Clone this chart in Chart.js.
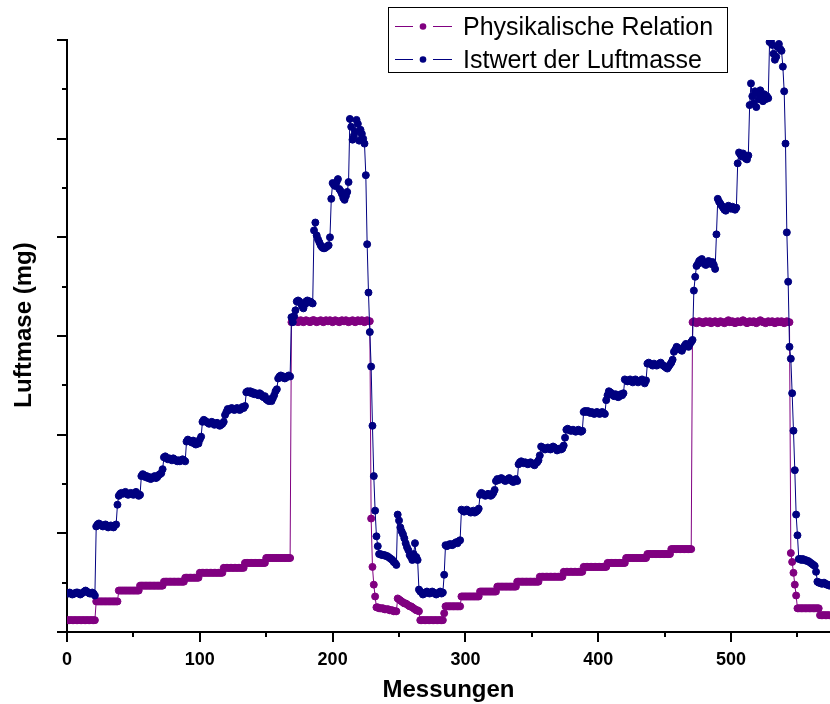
<!DOCTYPE html>
<html lang="de">

<head>
    <meta charset="UTF-8">
    <title>Luftmasse</title>
    <style>
        html,
        body {
            margin: 0;
            padding: 0;
            overflow: hidden;
            background: #fff;
        }

        .chart-container {
            position: relative;
            width: 830px;
            height: 704px;
        }

        canvas {
            display: block;
        }
    </style>
</head>

<body>
    <div class="chart-container">
        <canvas id="luftmasseChart"></canvas>
    </div>
</body>

<script src="https://cdn.jsdelivr.net/npm/chart.js@4.4.6/dist/chart.umd.min.js"></script>
<script>
    // one value per measurement, index = Messung
    const seriesLabels = ['Physikalische Relation', 'Istwert der Luftmasse'];
    const seriesColors = ['#800080', '#000080'];
    const xTicks = [0, 100, 200, 300, 400, 500];

    const physRelation = [
        // 0-21
        1.2, 1.2, 1.2, 1.2, 1.2, 1.2, 1.2, 1.2, 1.2, 1.2, 1.2,
        1.2, 1.2, 1.2, 1.2, 1.2, 1.2, 1.2, 1.2, 1.2, 1.2, 1.2,
        // 22-38
        3.1, 3.1, 3.1, 3.1, 3.1, 3.1, 3.1, 3.1, 3.1, 3.1, 3.1, 3.1, 3.1, 3.1, 3.1, 3.1, 3.1,
        // 39-54
        4.2, 4.2, 4.2, 4.2, 4.2, 4.2, 4.2, 4.2, 4.2, 4.2, 4.2, 4.2, 4.2, 4.2, 4.2, 4.2,
        // 55-72
        4.7, 4.7, 4.7, 4.7, 4.7, 4.7, 4.7, 4.7, 4.7, 4.7, 4.7, 4.7, 4.7, 4.7, 4.7, 4.7, 4.7, 4.7,
        // 73-88
        5.1, 5.1, 5.1, 5.1, 5.1, 5.1, 5.1, 5.1, 5.1, 5.1, 5.1, 5.1, 5.1, 5.1, 5.1, 5.1,
        // 89-99
        5.5, 5.5, 5.5, 5.5, 5.5, 5.5, 5.5, 5.5, 5.5, 5.5, 5.5,
        // 100-117
        6.0, 6.0, 6.0, 6.0, 6.0, 6.0, 6.0, 6.0, 6.0, 6.0, 6.0, 6.0, 6.0, 6.0, 6.0, 6.0, 6.0, 6.0,
        // 118-133
        6.5, 6.5, 6.5, 6.5, 6.5, 6.5, 6.5, 6.5, 6.5, 6.5, 6.5, 6.5, 6.5, 6.5, 6.5, 6.5,
        // 134-149
        7.0, 7.0, 7.0, 7.0, 7.0, 7.0, 7.0, 7.0, 7.0, 7.0, 7.0, 7.0, 7.0, 7.0, 7.0, 7.0,
        // 150-168
        7.5, 7.5, 7.5, 7.5, 7.5, 7.5, 7.5, 7.5, 7.5, 7.5, 7.5, 7.5, 7.5, 7.5, 7.5, 7.5, 7.5, 7.5, 7.5,
        // 169-228
        31.4, 31.6, 31.5, 31.5, 31.6, 31.4, 31.5, 31.6, 31.5, 31.4,
        31.5, 31.6, 31.5, 31.5, 31.4, 31.5, 31.6, 31.6, 31.5, 31.4,
        31.5, 31.5, 31.6, 31.5, 31.4, 31.5, 31.6, 31.5, 31.5, 31.6,
        31.5, 31.4, 31.5, 31.6, 31.5, 31.5, 31.4, 31.5, 31.6, 31.5,
        31.5, 31.6, 31.5, 31.4, 31.5, 31.5, 31.6, 31.5, 31.4, 31.5,
        31.6, 31.5, 31.5, 31.6, 31.5, 31.4, 31.5, 31.6, 31.5, 31.5,
        // 229-232
        11.5, 6.6, 4.8, 3.6,
        // 233-248
        2.5, 2.5, 2.4, 2.4, 2.4, 2.4, 2.3, 2.3, 2.3, 2.3, 2.2, 2.2, 2.2, 2.1, 2.1, 2.1,
        // 249-265
        3.4, 3.3, 3.2, 3.1, 3.0, 2.9, 2.9, 2.8, 2.7, 2.6, 2.6, 2.5, 2.4, 2.3, 2.2, 2.2, 2.1,
        // 266-283
        1.2, 1.2, 1.2, 1.2, 1.2, 1.2, 1.2, 1.2, 1.2, 1.2, 1.2, 1.2, 1.2, 1.2, 1.2, 1.2, 1.2, 1.2,
        // 284
        1.9,
        // 285-296
        2.6, 2.6, 2.6, 2.6, 2.6, 2.6, 2.6, 2.6, 2.6, 2.6, 2.6, 2.6,
        // 297-310
        3.6, 3.6, 3.6, 3.6, 3.6, 3.6, 3.6, 3.6, 3.6, 3.6, 3.6, 3.6, 3.6, 3.6,
        // 311-323
        4.1, 4.1, 4.1, 4.1, 4.1, 4.1, 4.1, 4.1, 4.1, 4.1, 4.1, 4.1, 4.1,
        // 324-338
        4.6, 4.6, 4.6, 4.6, 4.6, 4.6, 4.6, 4.6, 4.6, 4.6, 4.6, 4.6, 4.6, 4.6, 4.6,
        // 339-355
        5.1, 5.1, 5.1, 5.1, 5.1, 5.1, 5.1, 5.1, 5.1, 5.1, 5.1, 5.1, 5.1, 5.1, 5.1, 5.1, 5.1,
        // 356-373
        5.6, 5.6, 5.6, 5.6, 5.6, 5.6, 5.6, 5.6, 5.6, 5.6, 5.6, 5.6, 5.6, 5.6, 5.6, 5.6, 5.6, 5.6,
        // 374-388
        6.1, 6.1, 6.1, 6.1, 6.1, 6.1, 6.1, 6.1, 6.1, 6.1, 6.1, 6.1, 6.1, 6.1, 6.1,
        // 389-406
        6.6, 6.6, 6.6, 6.6, 6.6, 6.6, 6.6, 6.6, 6.6, 6.6, 6.6, 6.6, 6.6, 6.6, 6.6, 6.6, 6.6, 6.6,
        // 407-420
        7.0, 7.0, 7.0, 7.0, 7.0, 7.0, 7.0, 7.0, 7.0, 7.0, 7.0, 7.0, 7.0, 7.0,
        // 421-436
        7.5, 7.5, 7.5, 7.5, 7.5, 7.5, 7.5, 7.5, 7.5, 7.5, 7.5, 7.5, 7.5, 7.5, 7.5, 7.5,
        // 437-454
        7.9, 7.9, 7.9, 7.9, 7.9, 7.9, 7.9, 7.9, 7.9, 7.9, 7.9, 7.9, 7.9, 7.9, 7.9, 7.9, 7.9, 7.9,
        // 455-470
        8.4, 8.4, 8.4, 8.4, 8.4, 8.4, 8.4, 8.4, 8.4, 8.4, 8.4, 8.4, 8.4, 8.4, 8.4, 8.4,
        // 471-544
        31.4, 31.5, 31.4, 31.3, 31.4, 31.5, 31.4, 31.4, 31.3, 31.4,
        31.5, 31.4, 31.4, 31.5, 31.3, 31.4, 31.4, 31.5, 31.4, 31.3,
        31.4, 31.5, 31.4, 31.4, 31.3, 31.4, 31.5, 31.6, 31.4, 31.4,
        31.5, 31.4, 31.3, 31.4, 31.5, 31.4, 31.4, 31.5, 31.6, 31.5,
        31.4, 31.3, 31.4, 31.5, 31.4, 31.4, 31.5, 31.4, 31.3, 31.4,
        31.5, 31.6, 31.5, 31.4, 31.4, 31.3, 31.4, 31.5, 31.4, 31.4,
        31.5, 31.4, 31.3, 31.4, 31.5, 31.4, 31.4, 31.5, 31.4, 31.3,
        31.4, 31.5, 31.4, 31.4,
        // 545-549
        8.0, 7.1, 6.0, 4.8, 3.7,
        // 550-566
        2.4, 2.4, 2.4, 2.4, 2.4, 2.4, 2.4, 2.4, 2.4, 2.4, 2.4, 2.4, 2.4, 2.4, 2.4, 2.4, 2.4,
        // 567-574
        1.7, 1.7, 1.7, 1.7, 1.7, 1.7, 1.7, 1.7
    ];

    const istwertLuftmasse = [
        // 0-21
        3.9, 3.9, 4.0, 3.9, 3.8, 3.9, 3.9, 4.0, 4.0, 3.9, 3.8,
        3.9, 4.0, 4.1, 4.2, 4.1, 4.0, 3.9, 3.9, 4.0, 3.9, 3.7,
        // 22-37
        10.7, 10.9, 11.0, 10.9, 10.8, 10.7, 10.8, 10.9, 10.8, 10.6, 10.7, 10.8, 10.7, 10.6, 10.8, 10.9,
        // 38
        12.9,
        // 39-55
        13.8, 14.0, 14.1, 14.0, 14.1, 14.2, 14.0, 13.9, 14.0, 14.1, 14.0, 13.9, 14.1, 14.2, 14.0, 13.8, 13.9,
        // 56-71
        15.8, 16.0, 15.9, 15.7, 15.8, 15.6, 15.7, 15.5, 15.6, 15.7, 15.8, 15.6, 15.7, 15.9, 16.0, 16.1,
        // 72
        16.5,
        // 73-89
        17.7, 17.8, 17.6, 17.5, 17.6, 17.5, 17.4, 17.6, 17.5, 17.4, 17.3, 17.4, 17.3, 17.4, 17.5, 17.4, 17.3,
        // 90-101
        19.3, 19.5, 19.4, 19.3, 19.2, 19.4, 19.1, 19.0, 19.2, 19.1, 19.5, 19.8,
        // 102-118
        21.3, 21.5, 21.4, 21.3, 21.2, 21.1, 21.2, 21.3, 21.2, 21.0, 21.1, 21.2, 21.0, 20.9, 21.0, 21.1, 21.3,
        // 119-134
        22.0, 22.3, 22.6, 22.5, 22.6, 22.7, 22.6, 22.5, 22.6, 22.7, 22.6, 22.5, 22.6, 22.8, 22.7, 22.9,
        // 135-158
        24.3, 24.4, 24.3, 24.4, 24.2, 24.3, 24.1, 24.2, 24.1, 24.0, 24.2, 24.1,
        23.9, 23.8, 23.9, 23.6, 23.5, 23.4, 23.6, 23.4, 23.7, 24.0, 24.4, 24.6,
        // 159-168
        25.7, 25.9, 26.0, 25.8, 25.9, 25.7, 25.8, 25.9, 26.0, 25.9,
        // 169-224
        31.9, 31.4, 32.0, 32.6, 33.5, 33.6, 33.5, 33.3, 33.0, 32.8,
        33.2, 33.5, 33.6, 33.4, 33.5, 33.4, 33.3, 40.7, 41.5, 40.2,
        39.8, 39.5, 39.2, 39.0, 38.9, 38.9, 39.0, 39.1, 39.2, 40.0,
        43.9, 45.5, 45.3, 45.2, 45.6, 45.9, 44.9, 44.7, 44.4, 44.0,
        43.8, 44.2, 44.6, 45.6, 52.0, 51.2, 49.9, 50.3, 50.7, 51.9,
        51.5, 49.8, 50.9, 50.5, 50.0, 49.5,
        // 225-234
        46.3, 39.3, 34.4, 30.4, 26.9, 20.9, 15.8, 12.3, 9.7, 8.7,
        // 235-248
        7.9, 7.9, 7.8, 7.8, 7.8, 7.7, 7.7, 7.6, 7.5, 7.4, 7.3, 7.1, 7.0, 6.8,
        // 249-265
        11.9, 11.3, 10.6, 10.2, 9.9, 9.5, 9.0, 8.6, 8.3, 7.8, 7.6, 7.3, 7.9, 9.0, 7.6, 7.3, 4.3,
        // 266-283
        4.1, 4.0, 3.8, 3.9, 4.0, 4.1, 4.0, 3.9, 4.0, 4.1, 4.0, 3.9, 3.8, 3.9, 4.0, 4.1, 3.9, 4.0,
        // 284
        5.8,
        // 285-296
        8.8, 8.7, 8.8, 8.9, 8.9, 8.8, 8.9, 9.0, 9.1, 9.0, 9.2, 9.3,
        // 297-310
        12.4, 12.3, 12.2, 12.3, 12.4, 12.3, 12.2, 12.1, 12.2, 12.3, 12.1, 12.2, 12.3, 12.5,
        // 311-322
        13.9, 14.1, 14.0, 13.9, 13.8, 13.9, 14.0, 13.9, 13.8, 13.9, 14.1, 14.4,
        // 323-339
        15.3, 15.5, 15.4, 15.5, 15.6, 15.5, 15.4, 15.3, 15.4, 15.5, 15.6, 15.4, 15.3, 15.2, 15.4, 15.5, 15.3,
        // 340-355
        17.0, 17.2, 17.3, 17.2, 17.1, 17.2, 17.1, 17.0, 17.1, 17.2, 17.1, 17.0, 16.9, 17.1, 17.2, 17.4,
        // 356
        17.9,
        // 357-374
        18.8, 18.7, 18.6, 18.5, 18.6, 18.7, 18.6, 18.5, 18.6, 18.8, 18.7, 18.6, 18.4, 18.5, 18.6, 18.5, 18.6, 18.9,
        // 375
        19.7,
        // 376-388
        20.5, 20.6, 20.5, 20.4, 20.4, 20.5, 20.4, 20.3, 20.4, 20.5, 20.4, 20.3, 20.4,
        // 389-405
        22.3, 22.4, 22.3, 22.4, 22.3, 22.2, 22.3, 22.2, 22.1, 22.2, 22.3, 22.2, 22.1, 22.2, 22.3, 22.2, 22.1,
        // 406-419
        23.5, 24.0, 24.4, 24.3, 24.2, 24.0, 23.9, 24.1, 24.0, 23.8, 23.9, 24.1, 24.0, 24.2,
        // 420-436
        25.6, 25.5, 25.4, 25.5, 25.6, 25.4, 25.3, 25.5, 25.6, 25.4, 25.3, 25.4, 25.5, 25.6, 25.4, 25.2, 25.5,
        // 437-456
        27.2, 27.3, 27.2, 27.1, 27.0, 27.2, 27.1, 27.0, 27.1, 27.2,
        27.3, 27.1, 27.0, 26.9, 26.8, 26.7, 26.9, 27.1, 27.3, 27.6,
        // 457-471
        28.4, 28.6, 28.9, 28.8, 28.7, 28.6, 28.5, 28.8, 29.0, 29.2, 29.1, 28.9, 29.2, 29.4, 29.6,
        // 472-474
        34.6, 36.0, 37.1,
        // 475-488
        37.3, 37.6, 37.7, 37.8, 37.5, 37.3, 37.2, 37.4, 37.6, 37.5, 37.3, 37.5, 37.2, 36.8,
        // 489
        40.3,
        // 490-504
        43.9, 43.6, 43.4, 43.2, 43.0, 42.8, 42.7, 43.0, 43.2, 43.0, 42.9, 43.1, 42.9, 42.8, 43.0,
        // 505
        47.5,
        // 506-513
        48.6, 48.4, 48.2, 48.5, 48.3, 48.0, 47.9, 48.3,
        // 514
        53.4,
        // 515-528
        55.6, 54.3, 53.6, 54.8, 53.2, 54.6, 54.0, 54.9, 54.3, 53.8, 54.5, 54.0, 54.3, 54.1,
        // 529-539
        59.8, 59.9, 59.5, 58.6, 58.0, 58.3, 59.3, 59.6, 59.1, 58.9, 57.3,
        // 540-550
        54.8, 49.5, 40.5, 35.5, 28.9, 27.7, 24.2, 20.4, 16.4, 11.9, 9.8,
        // 551-563
        7.4, 7.4, 7.3, 7.4, 7.3, 7.3, 7.2, 7.2, 7.1, 7.0, 6.9, 6.8, 6.7,
        // 564
        6.1,
        // 565-574
        5.1, 5.0, 5.0, 4.9, 4.9, 5.0, 4.9, 4.8, 4.8, 4.7
    ];

    const toPoints = (values) => values.map((y, i) => ({ x: i, y }));

    const fontFamily = 'Arial, "Liberation Sans", sans-serif';
    Chart.defaults.font.family = fontFamily;
    Chart.defaults.color = '#000';

    // short/long tick marks outside both axes
    const axisTicks = {
        id: 'axisTicks',
        afterDraw(chart) {
            const { ctx, chartArea, scales: { x, y } } = chart;
            ctx.save();
            ctx.strokeStyle = '#000';
            ctx.lineWidth = 2;
            ctx.beginPath();
            for (let v = 0; v <= x.max; v += 50) {
                const px = Math.round(x.getPixelForValue(v));
                const len = v % 100 === 0 ? 10 : 5;
                ctx.moveTo(px, chartArea.bottom);
                ctx.lineTo(px, chartArea.bottom + len);
            }
            for (let v = 0; v <= y.max; v += 5) {
                const py = Math.round(y.getPixelForValue(v));
                const len = v % 10 === 0 ? 10 : 5;
                ctx.moveTo(chartArea.left, py);
                ctx.lineTo(chartArea.left - len, py);
            }
            ctx.stroke();

            // y title, set a bit above the axis centre
            ctx.translate(24, (chartArea.top + chartArea.bottom) / 2 - 11);
            ctx.rotate(-Math.PI / 2);
            ctx.font = 'bold 24px ' + fontFamily;
            ctx.fillStyle = '#000';
            ctx.textAlign = 'center';
            ctx.textBaseline = 'middle';
            ctx.fillText('Luftmase (mg)', 0, 0);
            ctx.restore();
        }
    };

    // boxed legend with line-dot-line symbols
    const legendBox = {
        id: 'legendBox',
        afterDraw(chart) {
            const ctx = chart.ctx;
            const box = { left: 388, top: 7, width: 339, height: 65 };
            ctx.save();
            ctx.fillStyle = '#fff';
            ctx.fillRect(box.left, box.top, box.width, box.height);
            ctx.strokeStyle = '#000';
            ctx.lineWidth = 1;
            ctx.strokeRect(box.left + 0.5, box.top + 0.5, box.width, box.height);
            ctx.font = '25px ' + fontFamily;
            ctx.textBaseline = 'alphabetic';
            chart.data.datasets.forEach((ds, i) => {
                const rowY = 26 + i * 33;
                ctx.strokeStyle = ds.borderColor;
                ctx.lineWidth = 1;
                ctx.beginPath();
                ctx.moveTo(395, rowY + 0.5);
                ctx.lineTo(413, rowY + 0.5);
                ctx.moveTo(433, rowY + 0.5);
                ctx.lineTo(452, rowY + 0.5);
                ctx.stroke();
                ctx.fillStyle = ds.pointBackgroundColor;
                ctx.beginPath();
                ctx.arc(423, rowY + 0.5, 3.3, 0, Math.PI * 2);
                ctx.fill();
                ctx.fillStyle = '#000';
                ctx.fillText(ds.label, 463, rowY + 9);
            });
            ctx.restore();
        }
    };

    const makeDataset = (label, color, values, order) => ({
        label,
        data: toPoints(values),
        borderColor: color,
        backgroundColor: color,
        pointBackgroundColor: color,
        pointBorderColor: color,
        borderWidth: 1,
        pointRadius: 3.5,
        pointBorderWidth: 1,
        tension: 0,
        order,
    });

    const chart = new Chart(document.getElementById('luftmasseChart'), {
        type: 'line',
        data: {
            datasets: [
                makeDataset(seriesLabels[0], seriesColors[0], physRelation, 1),
                makeDataset(seriesLabels[1], seriesColors[1], istwertLuftmasse, 0),
            ]
        },
        options: {
            responsive: true,
            maintainAspectRatio: false,
            animation: false,
            layout: {
                autoPadding: false,
                padding: { top: 40, right: 0, bottom: 0, left: 0 },
            },
            scales: {
                x: {
                    type: 'linear',
                    min: 0,
                    max: 574.5,
                    afterBuildTicks: (scale) => {
                        scale.ticks = xTicks.map(value => ({ value }));
                    },
                    afterFit: (scale) => {
                        scale.height = 72;
                        scale.paddingRight = 0;
                    },
                    ticks: {
                        includeBounds: false,
                        padding: 7,
                        font: { size: 18, weight: 'bold' },
                    },
                    grid: { drawOnChartArea: false, drawTicks: true, tickLength: 10, tickColor: 'rgba(0,0,0,0)' },
                    border: { color: '#000', width: 2 },
                    title: {
                        display: true,
                        text: 'Messungen',
                        font: { size: 24, weight: 'bold', lineHeight: 1.1 },
                        padding: { top: 0, bottom: 0 },
                    },
                },
                y: {
                    min: 0,
                    max: 60,
                    afterFit: (scale) => { scale.width = 67; },
                    ticks: { display: false, stepSize: 10 },
                    grid: { drawOnChartArea: false, drawTicks: true, tickLength: 10, tickColor: 'rgba(0,0,0,0)' },
                    border: { color: '#000', width: 2 },
                    title: { display: false },
                },
            },
            plugins: {
                legend: { display: false },
                tooltip: { enabled: false },
            },
        },
        plugins: [axisTicks, legendBox],
    });
</script>

</html>
